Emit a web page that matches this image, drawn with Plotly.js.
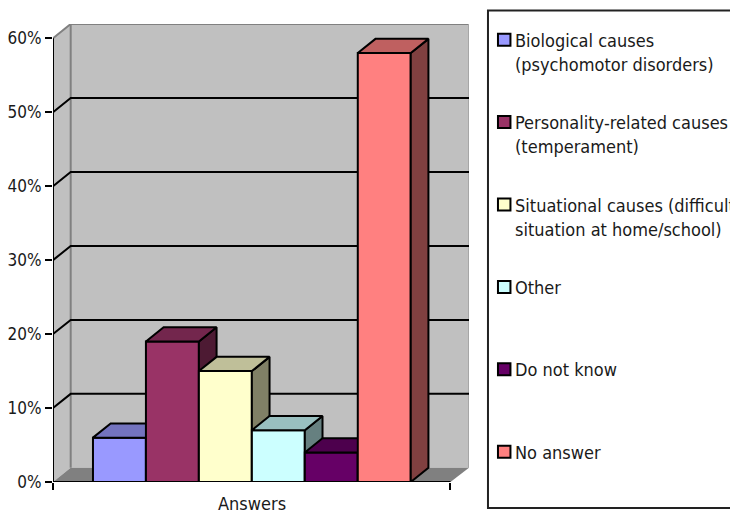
<!DOCTYPE html>
<html>
<head>
<meta charset="utf-8">
<script src="https://cdn.plot.ly/plotly-3.0.1.min.js"></script>
<style>html,body{margin:0;padding:0;background:#fff;overflow:hidden}#chart{width:730px;height:511px}</style>
</head>
<body>
<div id="chart"></div>
<script>
// Survey answers, percent of respondents
const categories = [
  ['Biological causes', '(psychomotor disorders)'],
  ['Personality-related causes', '(temperament)'],
  ['Situational causes (difficult', 'situation at home/school)'],
  ['Other'],
  ['Do not know'],
  ['No answer']
];
const values = [6, 19, 15, 7, 4, 58];
const colors = ['#9999ff', '#993366', '#ffffcc', '#ccffff', '#660066', '#ff8080'];
const yTicks = [0, 10, 20, 30, 40, 50, 60];
const xAxisLabel = 'Answers';

// Pseudo-3D geometry, in axis units
const DEPTH_X = 0.334, DEPTH_Y = 1.92;
const FRONT_L = -1.2547, FRONT_R = 6.25;
const BACK_L = FRONT_L + DEPTH_X, BACK_R = FRONT_R + DEPTH_X + 0.016;
const Y_MAX = 61.93;

// Figure frame in pixels
const W = 730, H = 511, M = {l: 53, r: 260.5, t: 24, b: 29};
const px = v => (v - M.l) / (W - M.l - M.r);
const py = v => (H - M.b - v) / (H - M.t - M.b);

const FONT = 'DejaVu Sans Condensed, DejaVu Sans';
const FONT_SIZE = 18;
const TICK_SIZE = 17;
const TEXT = '#1a1a1a';
const shade = (hex, k) => {
  const n = parseInt(hex.slice(1), 16);
  const c = [n >> 16, (n >> 8) & 255, n & 255].map(v => Math.round(v * k));
  return `rgb(${c[0]},${c[1]},${c[2]})`;
};
const poly = (pts, fill, axis) => ({
  type: 'scatter', mode: 'lines', yaxis: axis, cliponaxis: false, hoverinfo: 'skip',
  x: pts.map(p => p[0]), y: pts.map(p => p[1]),
  fill: 'toself', fillcolor: fill, line: {color: '#000', width: 2, join: 'miter'}
});
const segment = (xs, ys, color, width, axis) => ({
  type: 'scatter', mode: 'lines', yaxis: axis, cliponaxis: false, hoverinfo: 'skip',
  x: xs, y: ys, line: {color, width}
});

const traces = [];

// Gridlines on the side and back walls
yTicks.filter(t => t > 0 && t < 60).forEach(t => {
  traces.push(segment([FRONT_L, BACK_L, BACK_R], [t, t + DEPTH_Y, t + DEPTH_Y], '#000', 2, 'y'));
});

// One overlay axis per column so that columns paint left to right
values.forEach((v, i) => {
  const axis = 'y' + (i + 2);
  const l = i - 0.5, r = i + 0.5;
  traces.push({
    type: 'bar', x: [i], y: [v], width: 1, yaxis: axis, cliponaxis: false,
    name: categories[i].join(' '),
    marker: {color: colors[i], line: {color: '#000', width: 2}}
  });
  traces.push(poly([[r, 0], [r + DEPTH_X, DEPTH_Y], [r + DEPTH_X, v + DEPTH_Y], [r, v], [r, 0]], shade(colors[i], 0.5), axis));
  traces.push(poly([[l, v], [l + DEPTH_X, v + DEPTH_Y], [r + DEPTH_X, v + DEPTH_Y], [r, v], [l, v]], shade(colors[i], 0.75), axis));
});

// Front axis lines
const lastAxis = 'y' + (values.length + 1);
traces.push(segment([FRONT_L, FRONT_R], [0, 0], '#000', 2, lastAxis));
traces.push(segment([FRONT_L, FRONT_L], [0, 60], '#000', 2, lastAxis));

const GREY = '#808080';
const dataPath = pts => 'M' + pts.map(p => p.join(',')).join('L') + 'Z';
const shapes = [
  // Walls and floor
  {type: 'path', xref: 'x', yref: 'y', layer: 'below', fillcolor: '#c0c0c0', line: {width: 0},
   path: dataPath([[BACK_L, DEPTH_Y], [BACK_R, DEPTH_Y], [BACK_R, Y_MAX], [BACK_L, Y_MAX]])},
  {type: 'path', xref: 'x', yref: 'y', layer: 'below', fillcolor: '#c0c0c0', line: {width: 0},
   path: dataPath([[FRONT_L, 0], [BACK_L, DEPTH_Y], [BACK_L, Y_MAX], [FRONT_L, 60]])},
  {type: 'path', xref: 'x', yref: 'y', layer: 'below', fillcolor: GREY, line: {width: 0},
   path: dataPath([[FRONT_L, 0], [BACK_L, DEPTH_Y], [BACK_R, DEPTH_Y], [FRONT_R, 0]])},
  // Wall outlines
  {type: 'line', xref: 'x', yref: 'y', layer: 'below', x0: BACK_L, x1: BACK_R, y0: Y_MAX, y1: Y_MAX, line: {color: GREY, width: 2}},
  {type: 'line', xref: 'x', yref: 'y', layer: 'below', x0: BACK_L, x1: BACK_L, y0: DEPTH_Y, y1: Y_MAX, line: {color: GREY, width: 2}},
  {type: 'line', xref: 'x', yref: 'y', layer: 'below', x0: FRONT_L, x1: BACK_L, y0: 60, y1: Y_MAX, line: {color: GREY, width: 2}},
  {type: 'line', xref: 'x', yref: 'y', layer: 'below', x0: BACK_R, x1: BACK_R, y0: DEPTH_Y, y1: Y_MAX, line: {color: '#a6a6a6', width: 2}},
  // Key frame, running past the right edge
  {type: 'rect', xref: 'paper', yref: 'paper', x0: px(488.5), x1: px(740), y0: py(10.5), y1: py(508),
   fillcolor: '#fff', line: {color: '#222', width: 2}}
];

const annotations = [{
  xref: 'x', x: 2.5, yref: 'paper', y: py(503), text: xAxisLabel, showarrow: false,
  xanchor: 'center', yanchor: 'middle', font: {family: FONT, size: FONT_SIZE, color: TEXT}
}];

// Key rows
const ROW_TOP = 39.7, ROW_STEP = 82.4, LINE_STEP = 24;
categories.forEach((lines, i) => {
  const cy = ROW_TOP + i * ROW_STEP;
  shapes.push({type: 'rect', xref: 'paper', yref: 'paper', x0: px(498.5), x1: px(511), y0: py(cy - 6), y1: py(cy + 6),
    fillcolor: colors[i], line: {color: '#000', width: 2}});
  lines.forEach((line, j) => annotations.push({
    xref: 'paper', yref: 'paper', x: px(514), y: py(cy + 0.6 + j * LINE_STEP), text: line, showarrow: false,
    xanchor: 'left', yanchor: 'middle', font: {family: FONT, size: FONT_SIZE, color: TEXT}
  }));
});

const layout = {
  width: W, height: H, margin: {l: M.l, r: M.r, t: M.t, b: M.b, pad: 0},
  paper_bgcolor: '#fff', plot_bgcolor: '#fff', showlegend: false, barmode: 'overlay',
  xaxis: {type: 'linear', range: [FRONT_L, BACK_R], showgrid: false, zeroline: false, showline: false,
    tickmode: 'array', tickvals: [FRONT_L, FRONT_R], ticktext: ['', ''], ticks: 'outside', ticklen: 7, tickwidth: 2, tickcolor: '#000'},
  yaxis: {range: [0, Y_MAX], showgrid: false, zeroline: false, showline: false,
    tickmode: 'array', tickvals: yTicks, ticktext: yTicks.map(t => t + '%'), ticks: 'outside', ticklen: 7, tickwidth: 2, tickcolor: '#000',
    tickfont: {family: FONT, size: TICK_SIZE, color: TEXT}},
  shapes, annotations
};
values.forEach((v, i) => {
  layout['yaxis' + (i + 2)] = {overlaying: 'y', range: [0, Y_MAX], visible: false, fixedrange: true};
});

Plotly.newPlot('chart', traces, layout, {staticPlot: true, displayModeBar: false});
</script>
</body>
</html>
